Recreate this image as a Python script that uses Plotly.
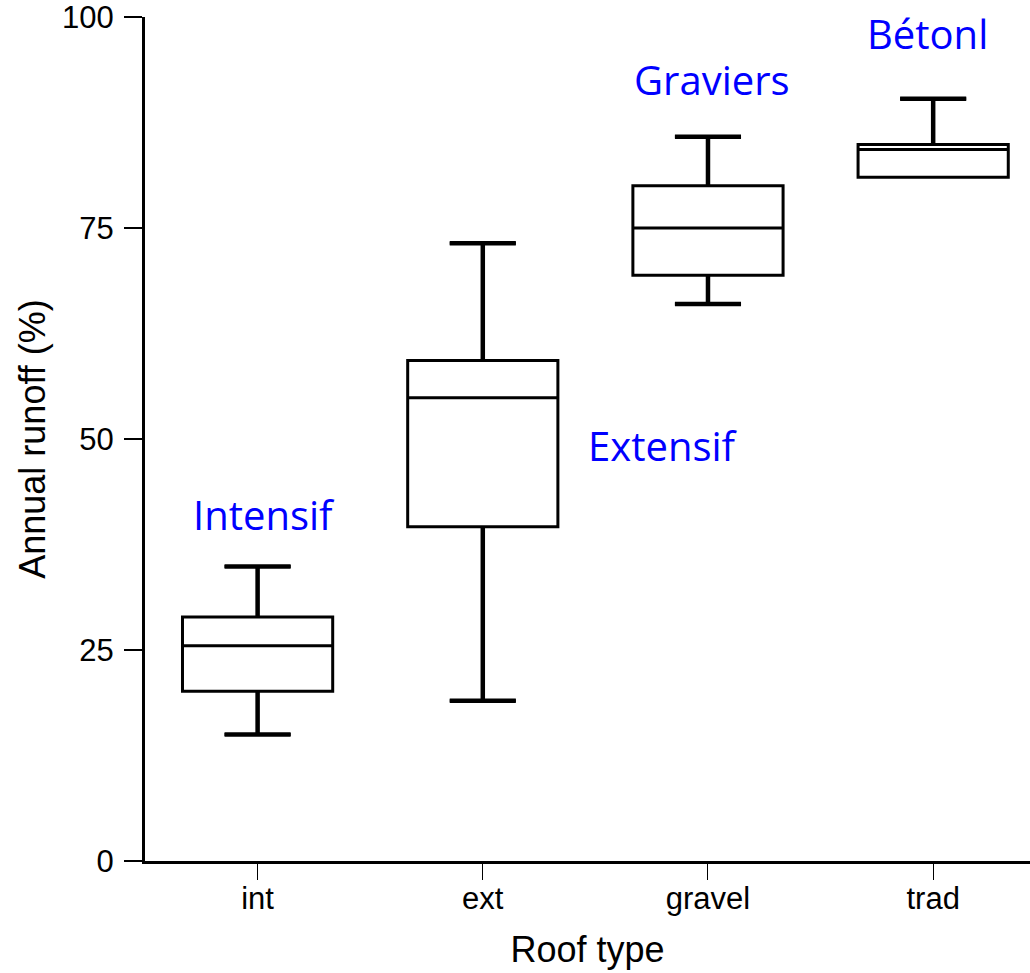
import plotly.graph_objects as go

# Roof types and the five-number summaries of annual runoff (%)
roof_types = ["int", "ext", "gravel", "trad"]
lower_whisker = [15.0, 19.0, 66.0, 81.0]
q1_values = [20.1, 39.6, 69.4, 81.0]
median_values = [25.5, 54.9, 75.0, 84.3]
q3_values = [28.9, 59.3, 80.0, 84.9]
upper_whisker = [34.9, 73.2, 85.8, 90.3]

# French labels placed next to each box
label_texts = ["Intensif", "Extensif", "Graviers", "Bétonl"]
label_x = [0.027, 1.8, 2.018, 2.973]
label_y = [41.0, 49.2, 92.6, 98.0]

positions = list(range(len(roof_types)))
box_width = 0.667
cap_fraction = 0.44
cap_half = box_width * cap_fraction / 2

fig = go.Figure()
fig.add_trace(go.Box(
    x=positions,
    q1=q1_values,
    median=median_values,
    q3=q3_values,
    lowerfence=lower_whisker,
    upperfence=upper_whisker,
    width=box_width,
    whiskerwidth=cap_fraction,
    fillcolor="white",
    line=dict(color="black", width=3),
    boxpoints=False,
    showlegend=False,
    hoverinfo="skip",
))

# Heavier whisker strokes drawn over the box whiskers
for p, lo, q1, q3, hi in zip(positions, lower_whisker, q1_values, q3_values, upper_whisker):
    for end, edge in ((hi, q3), (lo, q1)):
        if end == edge:
            continue
        fig.add_trace(go.Scatter(
            x=[p, p, None, p - cap_half, p + cap_half],
            y=[edge, end, None, end, end],
            mode="lines",
            line=dict(color="black", width=4.5),
            showlegend=False, hoverinfo="skip",
        ))

for txt, xv, yv in zip(label_texts, label_x, label_y):
    fig.add_annotation(
        x=xv, y=yv, xref="x", yref="y", text=txt, showarrow=False,
        font=dict(family="Open Sans", size=40, color="#0000ff"),
        xanchor="center", yanchor="middle",
    )

axis_font = dict(family="Liberation Sans", size=31, color="black")
title_font = dict(family="Liberation Sans", size=36, color="black")
fig.update_layout(
    width=1030, height=973,
    margin=dict(l=145, r=0, t=14, b=112),
    paper_bgcolor="white", plot_bgcolor="white",
    font=dict(family="Liberation Sans", color="black"),
    xaxis=dict(
        range=[-0.5, 3.43],
        tickvals=positions, ticktext=roof_types,
        showline=True, linecolor="black", linewidth=3,
        ticks="outside", ticklen=16, tickwidth=1, tickcolor="black",
        ticklabelstandoff=-8,
        tickfont=axis_font, showgrid=False, zeroline=False,
        title=dict(text="Roof type", font=title_font, standoff=22),
    ),
    yaxis=dict(
        range=[0, 100],
        tickvals=[0, 25, 50, 75, 100],
        showline=True, linecolor="black", linewidth=3,
        ticks="outside", ticklen=18, tickwidth=1.5, tickcolor="black",
        ticklabelstandoff=4, ticklabeloverflow="allow",
        tickfont=axis_font, showgrid=False, zeroline=False,
        title=dict(text="Annual runoff (%)", font=title_font, standoff=6),
    ),
)

fig.write_html("out.html")
